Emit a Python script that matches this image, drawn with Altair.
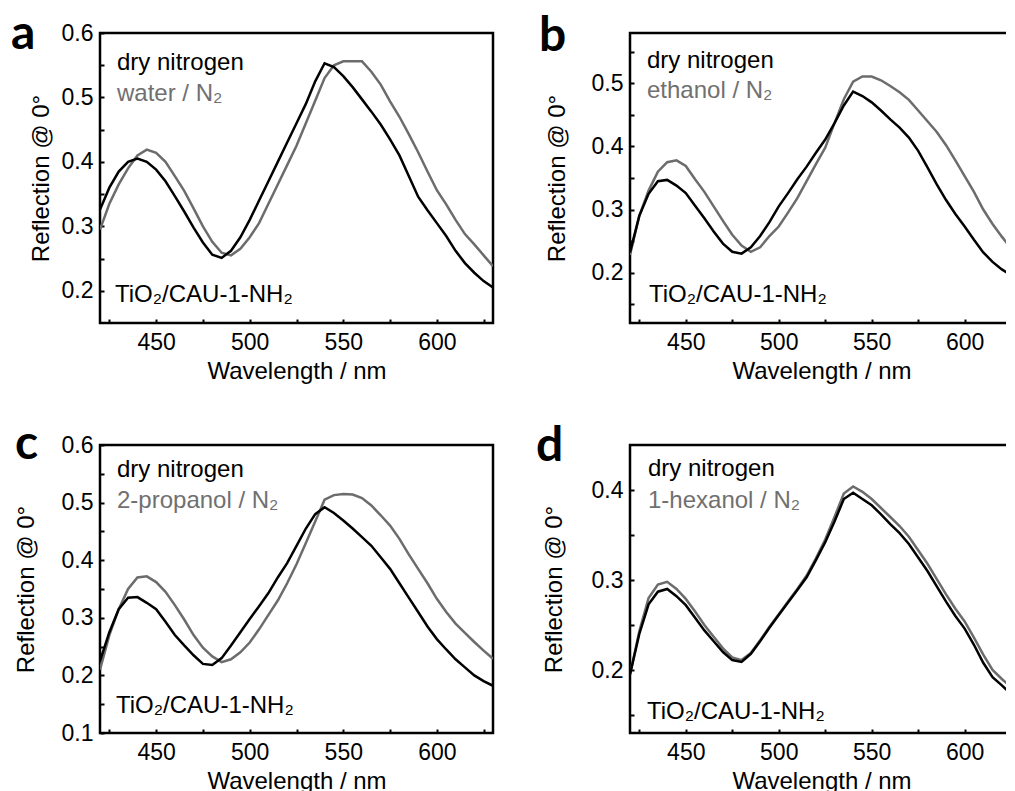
import altair as alt
import pandas as pd

# ---------------- data ----------------
wavelength = list(range(420, 631, 5))

a_dry = [0.326, 0.36, 0.385, 0.40, 0.405, 0.40, 0.388, 0.37, 0.347, 0.323, 0.298,
         0.275, 0.256, 0.251, 0.262, 0.283, 0.31, 0.34, 0.37, 0.40, 0.43, 0.46,
         0.49, 0.525, 0.553, 0.547, 0.533, 0.516, 0.497, 0.478, 0.458, 0.435, 0.41,
         0.378, 0.346, 0.325, 0.305, 0.285, 0.262, 0.243, 0.228, 0.215, 0.205]
a_wet = [0.295, 0.335, 0.365, 0.39, 0.41, 0.419, 0.414, 0.40, 0.378, 0.355, 0.328,
         0.30, 0.276, 0.259, 0.255, 0.265, 0.283, 0.305, 0.335, 0.365, 0.395, 0.425,
         0.46, 0.495, 0.53, 0.55, 0.556, 0.556, 0.556, 0.54, 0.52, 0.494, 0.47,
         0.443, 0.415, 0.385, 0.356, 0.334, 0.31, 0.288, 0.272, 0.255, 0.238]

b_dry = [0.232, 0.29, 0.325, 0.345, 0.347, 0.338, 0.326, 0.306, 0.286, 0.265, 0.246,
         0.233, 0.23, 0.24, 0.258, 0.28, 0.305, 0.326, 0.348, 0.368, 0.39, 0.411,
         0.437, 0.465, 0.487, 0.48, 0.47, 0.457, 0.443, 0.43, 0.414, 0.393, 0.367,
         0.34, 0.315, 0.293, 0.273, 0.252, 0.232, 0.217, 0.205, 0.196, 0.19]
b_wet = [0.228, 0.29, 0.33, 0.36, 0.375, 0.378, 0.369, 0.348, 0.328, 0.305, 0.282,
         0.26, 0.243, 0.233, 0.24, 0.258, 0.273, 0.295, 0.318, 0.345, 0.372, 0.398,
         0.437, 0.475, 0.503, 0.511, 0.511, 0.505, 0.496, 0.486, 0.474, 0.457, 0.44,
         0.423, 0.402, 0.378, 0.353, 0.328, 0.30, 0.277, 0.257, 0.238, 0.225]

c_dry = [0.225, 0.275, 0.315, 0.335, 0.336, 0.326, 0.315, 0.293, 0.27, 0.252, 0.235,
         0.22, 0.218, 0.23, 0.252, 0.275, 0.298, 0.32, 0.343, 0.37, 0.395, 0.425,
         0.455, 0.48, 0.492, 0.482, 0.469, 0.455, 0.44, 0.425, 0.405, 0.385, 0.36,
         0.335, 0.31, 0.285, 0.263, 0.245, 0.228, 0.214, 0.20, 0.19, 0.182]
c_wet = [0.21, 0.27, 0.315, 0.35, 0.37, 0.372, 0.362, 0.345, 0.322, 0.297, 0.27,
         0.248, 0.233, 0.223, 0.228, 0.24, 0.257, 0.28, 0.305, 0.33, 0.36, 0.393,
         0.43, 0.467, 0.505, 0.513, 0.515, 0.514, 0.508, 0.495, 0.478, 0.46, 0.437,
         0.41, 0.385, 0.36, 0.333, 0.31, 0.29, 0.274, 0.258, 0.243, 0.229]

d_dry = [0.195, 0.24, 0.273, 0.287, 0.29, 0.282, 0.272, 0.258, 0.244, 0.232, 0.22,
         0.211, 0.209, 0.218, 0.232, 0.247, 0.261, 0.275, 0.289, 0.303, 0.322, 0.342,
         0.365, 0.39, 0.397, 0.39, 0.383, 0.373, 0.362, 0.352, 0.34, 0.325, 0.31,
         0.293, 0.276, 0.26, 0.246, 0.228, 0.208, 0.192, 0.183, 0.173, 0.165]
d_wet = [0.195, 0.243, 0.28, 0.295, 0.298, 0.29, 0.279, 0.265, 0.25, 0.237, 0.224,
         0.214, 0.211, 0.219, 0.233, 0.248, 0.262, 0.276, 0.29, 0.305, 0.324, 0.345,
         0.37, 0.396, 0.404, 0.398, 0.39, 0.38, 0.37, 0.36, 0.348, 0.333, 0.318,
         0.301, 0.284, 0.268, 0.254, 0.236, 0.217, 0.20, 0.19, 0.181, 0.173]

panel_letters = ["a", "b", "c", "d"]
solvent_labels = ["water / N₂", "ethanol / N₂", "2-propanol / N₂", "1-hexanol / N₂"]
dry_label = "dry nitrogen"
sample_label = "TiO₂/CAU-1-NH₂"
x_title = "Wavelength / nm"
y_title = "Reflection @ 0°"

x_ticks = [425, 450, 475, 500, 525, 550, 575, 600, 625]
y_ticks_a = [0.2, 0.25, 0.3, 0.35, 0.4, 0.45, 0.5, 0.55, 0.6]
y_ticks_b = [0.15, 0.2, 0.25, 0.3, 0.35, 0.4, 0.45, 0.5, 0.55]
y_ticks_c = [0.1, 0.15, 0.2, 0.25, 0.3, 0.35, 0.4, 0.45, 0.5, 0.55, 0.6]
y_ticks_d = [0.15, 0.2, 0.25, 0.3, 0.35, 0.4]

BLACK = "#000000"
GREY = "#6c6c6c"
GREY_TEXT = "#707070"
FONT = "Liberation Sans"

panels = [
    dict(dry=a_dry, wet=a_wet, ydom=[0.15, 0.6], xdom=[420, 630], yt=y_ticks_a,
         w=393, h=290, tpad=8, letter=(-89, 16), txt=(17, 37, 68, 15, 269)),
    dict(dry=b_dry, wet=b_wet, ydom=[0.12, 0.58], xdom=[420, 626], yt=y_ticks_b,
         w=383, h=290, tpad=22, letter=(-91, 18), txt=(17, 35, 65, 19, 269)),
    dict(dry=c_dry, wet=c_wet, ydom=[0.1, 0.6], xdom=[420, 630], yt=y_ticks_c,
         w=393, h=288, tpad=23, letter=(-85, 14), txt=(17, 32, 63, 16, 268)),
    dict(dry=d_dry, wet=d_wet, ydom=[0.13, 0.45], xdom=[420, 626], yt=y_ticks_d,
         w=383, h=288, tpad=25, letter=(-94, 16), txt=(18, 31, 63, 17, 274)),
]

TICK = 4


def text_layer(label, x, y, color, size=24, weight="normal", font=FONT):
    return alt.Chart(pd.DataFrame({"label": [label]})).mark_text(
        align="left", baseline="alphabetic", fontSize=size, font=font,
        fontWeight=weight, color=color
    ).encode(x=alt.value(x), y=alt.value(y), text="label:N")


def make_panel(i):
    p = panels[i]
    solvent = solvent_labels[i]
    n = len(wavelength)
    # solvent series first, so the dry-nitrogen (black) curve is drawn on top
    df = pd.DataFrame({
        "wl": wavelength + wavelength,
        "R": p["wet"] + p["dry"],
        "series": [solvent] * n + [dry_label] * n,
    })

    lines = alt.Chart(df).mark_line(strokeWidth=2.5, clip=True).encode(
        x=alt.X("wl:Q",
                scale=alt.Scale(domain=p["xdom"], nice=False, zero=False),
                axis=alt.Axis(values=x_ticks,
                              labelExpr="datum.value % 50 === 0 ? datum.label : ''",
                              title=x_title, offset=-TICK, tickSize=TICK,
                              labelPadding=8, titlePadding=5)),
        y=alt.Y("R:Q",
                scale=alt.Scale(domain=p["ydom"], nice=False, zero=False),
                axis=alt.Axis(values=p["yt"],
                              labelExpr="abs(datum.value*10 - round(datum.value*10)) < 0.001 ? format(datum.value, '.1f') : ''",
                              title=y_title, offset=-TICK, tickSize=TICK,
                              labelPadding=7, titlePadding=p["tpad"])),
        color=alt.Color("series:N",
                        scale=alt.Scale(domain=[solvent, dry_label], range=[GREY, BLACK]),
                        legend=None),
    )

    tx, ty1, ty2, tx3, ty3 = p["txt"]
    lx, ly = p["letter"]
    layers = [
        lines,
        text_layer(dry_label, tx, ty1, BLACK),
        text_layer(solvent, tx, ty2, GREY_TEXT),
        text_layer(sample_label, tx3, ty3, BLACK),
        text_layer(panel_letters[i], lx, ly, BLACK, size=48, weight="bold", font="Lato"),
    ]
    return alt.layer(*layers).properties(width=p["w"], height=p["h"])


chart = alt.concat(
    make_panel(0), make_panel(1), make_panel(2), make_panel(3),
    columns=2, spacing={"row": 122, "column": 137}, bounds="flush",
).resolve_scale(
    x="independent", y="independent", color="independent"
).properties(
    padding={"left": 1, "top": 1, "right": -9, "bottom": 0},
    background="white",
).configure_view(
    stroke="black", strokeWidth=2.5
).configure_axis(
    grid=False, domain=False,
    labelFont=FONT, titleFont=FONT,
    labelFontSize=23, titleFontSize=24,
    labelColor=BLACK, titleColor=BLACK, tickColor=BLACK,
    tickWidth=2, titleFontWeight="normal",
    labelOverlap=False, labelFlush=False,
)

chart.save("out.html", embed_options={"renderer": "svg", "actions": False})
